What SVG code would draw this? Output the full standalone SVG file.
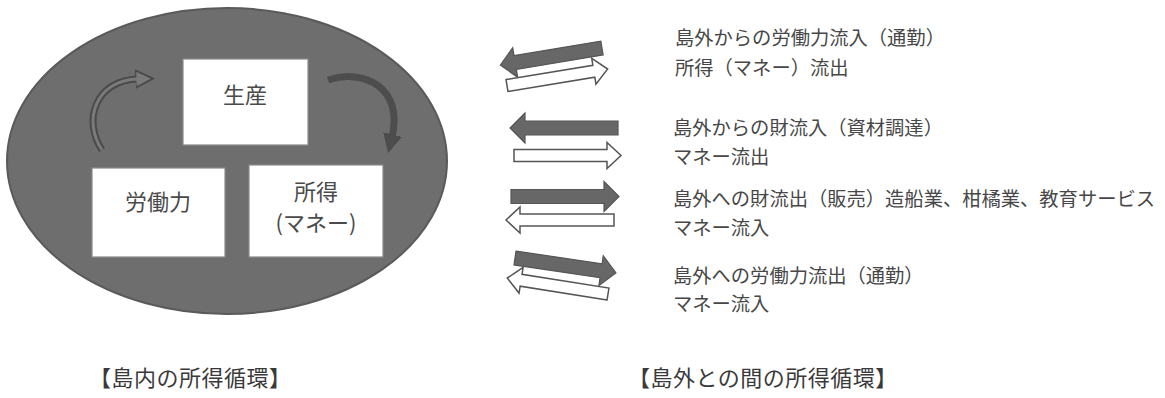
<svg xmlns="http://www.w3.org/2000/svg" width="1165" height="398" viewBox="0 0 1165 398">
  <style>
    text { font-family: "Noto Sans CJK JP", "Noto Sans", sans-serif; fill: #474747; }
    .box { fill: #ffffff; stroke: #8a8a8a; stroke-width: 1.2; }
    .lbl { font-size: 22px; text-anchor: middle; fill: #4a4a4a; }
    .desc { font-size: 19.3px; }
    .title { font-size: 22px; letter-spacing: 0.5px; fill: #3a3a3a; }
    .dark { fill: #676767; stroke: #555; stroke-width: 1.2; }
    .white { fill: #ffffff; stroke: #555; stroke-width: 1.5; }
  </style>
  <defs>
    <marker id="headL" markerUnits="userSpaceOnUse" markerWidth="20" markerHeight="20" refX="2" refY="8" orient="auto" viewBox="0 0 16 16">
      <path d="M0,1 L14,8 L0,15 z" fill="#7a7a7a" stroke="#4a4a4a" stroke-width="1.5"/>
    </marker>
    <marker id="headR" markerUnits="userSpaceOnUse" markerWidth="20" markerHeight="20" refX="2" refY="8" orient="auto" viewBox="0 0 16 16">
      <path d="M0,1 L14,8 L0,15 z" fill="#4d4d4d" stroke="#4a4a4a" stroke-width="1"/>
    </marker>
  </defs>
  <rect width="1165" height="398" fill="#ffffff"/>

  <g id="island">
    <ellipse cx="227" cy="161" rx="220" ry="153" fill="#6e6e6e" stroke="#5a5a5a" stroke-width="2"/>
  </g>

  <g id="node-production">
    <rect class="box" x="183" y="59" width="125" height="86"/>
    <text class="lbl" x="245" y="103">生産</text>
  </g>
  <g id="node-labor">
    <rect class="box" x="92" y="168" width="133" height="89"/>
    <text class="lbl" x="158" y="210">労働力</text>
  </g>
  <g id="node-income">
    <rect class="box" x="249" y="165" width="134" height="92"/>
    <text class="lbl" x="316" y="200">所得</text>
    <text class="lbl" x="316" y="231">(マネー)</text>
  </g>

  <g id="connectors">
    <path d="M102,150 C82,120 96,80 138,79" fill="none" stroke="#4a4a4a" stroke-width="7" marker-end="url(#headL)"/>
    <path d="M102,150 C82,120 96,80 138,79" fill="none" stroke="#7a7a7a" stroke-width="3"/>
    <path d="M328,80 C364,68 404,88 392,137" fill="none" stroke="#4d4d4d" stroke-width="7" marker-end="url(#headR)"/>

    <polygon class="dark" transform="translate(602,48) rotate(170.5)" points="0,-7 88,-7 88,-15 103,0 88,15 88,7 0,7"/>
    <polygon class="white" transform="translate(507,85.5) rotate(-9.3)" points="0,-6 88,-6 88,-13 102,0 88,13 88,6 0,6"/>

    <polygon class="dark" transform="translate(618,128) rotate(180)" points="0,-7 93,-7 93,-15 108,0 93,15 93,7 0,7"/>
    <polygon class="white" transform="translate(514,155.5)" points="0,-6 93,-6 93,-13 107,0 93,13 93,6 0,6"/>

    <polygon class="dark" transform="translate(511,196.5)" points="0,-7 93,-7 93,-15 108,0 93,15 93,7 0,7"/>
    <polygon class="white" transform="translate(614,220) rotate(180)" points="0,-6 94,-6 94,-13 108,0 94,13 94,6 0,6"/>

    <polygon class="dark" transform="translate(515,258) rotate(8.4)" points="0,-7 87,-7 87,-15 102,0 87,15 87,7 0,7"/>
    <polygon class="white" transform="translate(608,294) rotate(189)" points="0,-6 88,-6 88,-13 102,0 88,13 88,6 0,6"/>
  </g>

  <g id="flow-texts">
    <text class="desc" x="675" y="45">島外からの労働力流入（通勤）</text>
    <text class="desc" x="675" y="75">所得（マネー）流出</text>
    <text class="desc" x="673" y="135">島外からの財流入（資材調達）</text>
    <text class="desc" x="673" y="164">マネー流出</text>
    <text class="desc" x="673" y="206">島外への財流出（販売）造船業、柑橘業、教育サービス</text>
    <text class="desc" x="673" y="235">マネー流入</text>
    <text class="desc" x="673" y="283">島外への労働力流出（通勤）</text>
    <text class="desc" x="673" y="311">マネー流入</text>
  </g>

  <g id="titles">
    <text class="title" x="89" y="386">【島内の所得循環】</text>
    <text class="title" x="628" y="386">【島外との間の所得循環】</text>
  </g>
</svg>
